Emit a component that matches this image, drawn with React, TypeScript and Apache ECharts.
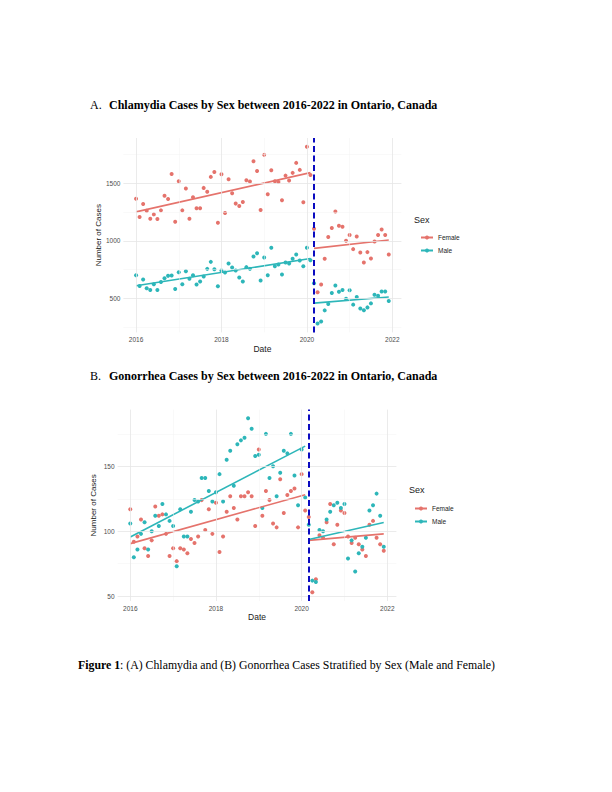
import React, { useEffect, useRef } from "react";
import * as echarts from "echarts";

// ---------- data ----------
const monthDates: string[] = [];
for (let y = 2016; y <= 2021; y++) {
  for (let m = 1; m <= 12; m++) monthDates.push(`${y}-${String(m).padStart(2, "0")}`);
}
const preMonths = 50; // Jan 2016 - Feb 2020
const interventionDate = "2020-03";

const xTickLabels = [2016, 2018, 2020, 2022];
const xMinorGrid = [2017, 2019, 2021];

const chlamydiaYTicks = [500, 1000, 1500];
const chlamydiaYMinor = [250, 750, 1250, 1750];
const gonorrheaYTicks = [50, 100, 150];
const gonorrheaYMinor = [75, 125, 175];

const chlamydiaFemale = [
  1367, 1207, 1321, 1262, 1192, 1230, 1189, 1265, 1393, 1364, 1583, 1166,
  1519, 1265, 1455, 1192, 1379, 1283, 1283, 1461, 1428, 1557, 1600, 1157,
  1580, 1242, 1536, 1414, 1324, 1303, 1338, 1528, 1516, 1694, 1609, 1268,
  1749, 1405, 1615, 1519, 1513, 1353, 1568, 1525, 1592, 1679, 1618, 1335,
  1819, 1574,
  1105, 551, 619, 843, 1032, 1111, 1256, 1131, 1122, 1000, 1050, 927,
  1038, 898, 811, 901, 845, 994, 1050, 1099, 1050, 880,
];
const chlamydiaMale = [
  700, 606, 662, 586, 571, 621, 571, 641, 674, 694, 697, 580,
  726, 621, 735, 668, 700, 618, 644, 688, 755, 816, 752, 604,
  741, 723, 802, 767, 741, 679, 644, 770, 755, 863, 892, 653,
  854, 700, 939, 778, 793, 706, 811, 802, 843, 880, 828, 778,
  939, 831,
  630, 278, 296, 393, 449, 545, 609, 556, 570, 494, 568, 443,
  509, 410, 394, 419, 454, 530, 520, 558, 558, 475,
];
const gonorrheaFemale = [
  117, 92, 96, 109, 87, 81, 93, 119, 112, 113, 98, 81,
  87, 77, 87, 86, 83, 94, 91, 96, 124, 101, 117, 98,
  122, 84, 96, 115, 127, 118, 109, 127, 127, 130, 127, 104,
  163, 112, 131, 124, 106, 103, 140, 114, 128, 131, 133, 103,
  144, 116,
  111, 53, 63, 97, 95, 107, 121, 90, 105, 116, 114, 96,
  91, 95, 90, 86, 81, 105, 108, 95, 90, 85,
];
const gonorrheaMale = [
  106, 80, 86, 98, 107, 86, 100, 112, 104, 121, 113, 108,
  104, 73, 117, 96, 96, 115, 124, 123, 141, 141, 131, 123,
  130, 144, 123, 155, 162, 135, 167, 170, 172, 187, 179, 158,
  159, 118, 175, 141, 150, 127, 145, 162, 160, 175, 143, 120,
  163, 126,
  105, 62, 61, 101, 100, 109, 115, 120, 122, 118, 121, 79,
  93, 69, 83, 88, 95, 116, 120, 129, 112, 88,
];

// fitted (lm) line end values: [start, end]
const chlamydiaFemaleFitPre = [1252, 1594];
const chlamydiaFemaleFitPost = [934, 1006];
const chlamydiaMaleFitPre = [607, 845];
const chlamydiaMaleFitPost = [456, 509];
const gonorrheaFemaleFitPre = [90.5, 128.2];
const gonorrheaFemaleFitPost = [93, 98];
const gonorrheaMaleFitPre = [95.6, 165.6];
const gonorrheaMaleFitPost = [93.6, 106.7];

// ---------- helpers ----------
const FEMALE = "#E5736C";
const MALE = "#2DB6B9";
const SANS = '"Liberation Sans", Arial, Helvetica, sans-serif';
const SERIF = '"Liberation Serif", "Times New Roman", serif';

const toYear = (s: string) => {
  const [y, m] = s.split("-").map(Number);
  return y + (m - 1) / 12;
};
const xs = monthDates.map(toYear);

const expand = (lo: number, hi: number) => {
  const d = (hi - lo) * 0.05;
  return [lo - d, hi + d];
};

function panel(
  idx: number,
  female: number[],
  male: number[],
  fFitPre: number[],
  fFitPost: number[],
  mFitPre: number[],
  mFitPost: number[],
  yTicks: number[],
  yMinor: number[]
) {
  const all = female.concat(male);
  const [ymin, ymax] = expand(Math.min(...all), Math.max(...all));
  const [xmin, xmax] = expand(xs[0], xs[xs.length - 1]);
  const xPreStart = xs[0];
  const xPreEnd = xs[preMonths - 1];
  const xPostStart = xs[preMonths];
  const xPostEnd = xs[xs.length - 1];

  const xAxis = {
    type: "value",
    gridIndex: idx,
    min: xmin,
    max: xmax,
    name: "Date",
    nameLocation: "middle",
    nameGap: 10,
    nameTextStyle: { fontFamily: SANS, fontSize: 8.5, color: "#1a1a1a" },
    axisLine: { show: false },
    axisTick: { show: false, customValues: xTickLabels },
    axisLabel: {
      customValues: xTickLabels,
      formatter: (v: number) => String(Math.round(v)),
      fontFamily: SANS,
      fontSize: 6.5,
      color: "#4d4d4d",
      margin: 4,
    },
    splitLine: { show: false },
  };
  const yAxis = {
    type: "value",
    gridIndex: idx,
    min: ymin,
    max: ymax,
    name: "Number of Cases",
    nameLocation: "middle",
    nameRotate: 90,
    nameGap: 20,
    nameTextStyle: { fontFamily: SANS, fontSize: 8, color: "#1a1a1a" },
    axisLine: { show: false },
    axisTick: { show: false, customValues: yTicks },
    axisLabel: {
      customValues: yTicks,
      formatter: (v: number) => String(Math.round(v)),
      fontFamily: SANS,
      fontSize: 6.5,
      color: "#4d4d4d",
      margin: 3,
    },
    splitLine: { show: false },
  };

  const major = { color: "#e6e6e6", width: 0.8, type: "solid" };
  const minor = { color: "#f2f2f2", width: 0.5, type: "solid" };
  const gridSeries = {
    type: "scatter",
    xAxisIndex: idx,
    yAxisIndex: idx,
    data: [],
    silent: true,
    z: 0,
    markLine: {
      silent: true,
      symbol: ["none", "none"],
      label: { show: false },
      data: [
        ...xMinorGrid.map((v) => ({ xAxis: v, lineStyle: minor })),
        ...yMinor.map((v) => ({ yAxis: v, lineStyle: minor })),
        ...xTickLabels.map((v) => ({ xAxis: v, lineStyle: major })),
        ...yTicks.map((v) => ({ yAxis: v, lineStyle: major })),
      ],
    },
  };

  const fitLine = (name: string, color: string, x0: number, x1: number, v: number[]) => ({
    type: "line",
    name,
    xAxisIndex: idx,
    yAxisIndex: idx,
    data: [
      [x0, v[0]],
      [x1, v[1]],
    ],
    symbol: "circle",
    symbolSize: 4,
    showSymbol: false,
    silent: true,
    lineStyle: { color, width: 1.6 },
    itemStyle: { color },
    z: 4,
  });

  const points = (name: string, color: string, vals: number[]) => ({
    type: "scatter",
    name,
    xAxisIndex: idx,
    yAxisIndex: idx,
    data: vals.map((v, i) => [xs[i], v]),
    symbolSize: 4,
    itemStyle: { color, opacity: 1 },
    silent: true,
    z: 3,
  });

  const vline = {
    type: "scatter",
    xAxisIndex: idx,
    yAxisIndex: idx,
    data: [],
    silent: true,
    z: 6,
    markLine: {
      silent: true,
      symbol: ["none", "none"],
      label: { show: false },
      lineStyle: { color: "#0b0bc0", width: 2, type: [6, 3.5] },
      data: [{ xAxis: toYear(interventionDate) }],
    },
  };

  const series = [
    fitLine("Female", FEMALE, xPreStart, xPreEnd, fFitPre),
    fitLine("Male", MALE, xPreStart, xPreEnd, mFitPre),
    gridSeries,
    points("Female", FEMALE, female),
    points("Male", MALE, male),
    fitLine("Female", FEMALE, xPostStart, xPostEnd, fFitPost),
    fitLine("Male", MALE, xPostStart, xPostEnd, mFitPost),
    vline,
  ];
  return { xAxis, yAxis, series };
}

export default function App() {
  const ref = useRef<HTMLDivElement>(null);
  useEffect(() => {
    if (!ref.current) return;
    const chart = echarts.init(ref.current, undefined, { renderer: "svg" });
    const a = panel(
      0, chlamydiaFemale, chlamydiaMale,
      chlamydiaFemaleFitPre, chlamydiaFemaleFitPost,
      chlamydiaMaleFitPre, chlamydiaMaleFitPost,
      chlamydiaYTicks, chlamydiaYMinor
    );
    const b = panel(
      1, gonorrheaFemale, gonorrheaMale,
      gonorrheaFemaleFitPre, gonorrheaFemaleFitPost,
      gonorrheaMaleFitPre, gonorrheaMaleFitPost,
      gonorrheaYTicks, gonorrheaYMinor
    );
    const legendBase = {
      data: ["Female", "Male"],
      orient: "vertical",
      itemWidth: 12,
      itemHeight: 5,
      itemGap: 6,
      selectedMode: false,
      textStyle: { fontFamily: SANS, fontSize: 6.5, color: "#1a1a1a" },
    };
    const txt = (x: number, y: number, text: string, opts: any = {}) => ({
      type: "text",
      x,
      y,
      silent: true,
      style: {
        text,
        fill: "#000",
        fontFamily: SERIF,
        fontSize: 12,
        verticalAlign: "middle",
        ...opts,
      },
    });
    chart.setOption({
      animation: false,
      backgroundColor: "#ffffff",
      grid: [
        { left: 123.4, top: 138, width: 278, height: 194.4 },
        { left: 117.6, top: 409.6, width: 278.8, height: 191.4 },
      ],
      xAxis: [a.xAxis, b.xAxis],
      yAxis: [a.yAxis, b.yAxis],
      legend: [
        { ...legendBase, left: 415, top: 229 },
        { ...legendBase, left: 409, top: 500 },
      ],
      series: [...a.series, ...b.series],
      graphic: [
        txt(90, 105, "A."),
        txt(109, 105, "Chlamydia Cases by Sex between 2016-2022 in Ontario, Canada", { fontWeight: "bold" }),
        txt(90, 376, "B."),
        txt(109, 376, "Gonorrhea Cases by Sex between 2016-2022 in Ontario, Canada", { fontWeight: "bold" }),
        txt(414, 220, "Sex", { fontFamily: SANS, fontSize: 9, fill: "#1a1a1a" }),
        txt(409, 490, "Sex", { fontFamily: SANS, fontSize: 9, fill: "#1a1a1a" }),
        txt(78, 665, "{b|Figure 1}: (A) Chlamydia and (B) Gonorrhea Cases Stratified by Sex (Male and Female)", {
          fontSize: 11.8,
          rich: { b: { fontWeight: "bold", fontFamily: SERIF, fontSize: 11.8 } },
        }),
      ],
    });
    return () => chart.dispose();
  }, []);
  return (
    <div
      ref={ref}
      style={{ position: "absolute", left: 0, top: 0, width: 612, height: 792, background: "#fff" }}
    />
  );
}
